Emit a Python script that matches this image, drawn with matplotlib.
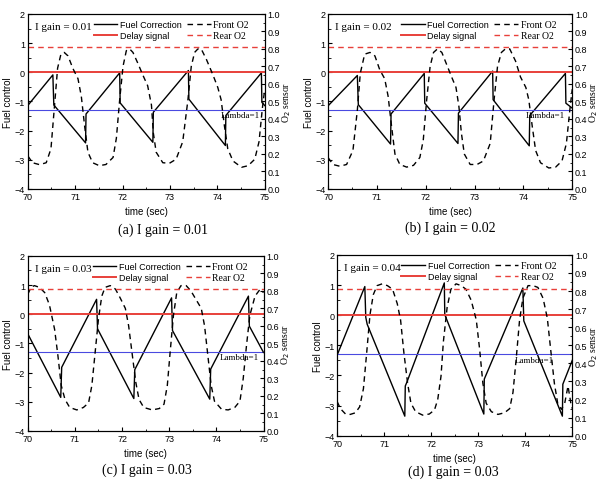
import matplotlib
matplotlib.use("Agg")
import matplotlib.pyplot as plt
from matplotlib.ticker import MultipleLocator

SANS = "Liberation Sans"
SERIF = "Liberation Serif"
RED = "#e8403a"
BLUE = "#4a4ae0"

# ---- values ----
GAINS = ["0.01", "0.02", "0.03", "0.04"]
CAPTIONS = ["(a) I gain = 0.01", "(b) I gain = 0.02", "(c) I gain = 0.03", "(d) I gain = 0.03"]
DELAY_LEVEL = 0.0      # left axis
LAMBDA_LEVEL = -1.3    # left axis (= 0.45 on the O2 axis)
REAR_O2 = 0.81         # right axis

# fuel correction (left axis)
fuel_t_a = [70.00, 70.53, 70.55, 71.22, 71.23, 71.94, 71.95, 72.64, 72.65, 73.39, 73.40,
            74.17, 74.18, 74.93, 74.94, 75.00]
fuel_a = [-1.14, -0.09, -1.12, -2.42, -1.43, -0.02, -1.05, -2.40, -1.37, 0.06, -0.92,
          -2.51, -1.48, -0.02, -1.03, -1.14]
fuel_t_b = [70.00, 70.60, 70.62, 71.28, 71.29, 71.97, 71.98, 72.66, 72.67, 73.37, 73.38,
            74.12, 74.13, 74.86, 74.87, 75.00]
fuel_b = [-1.15, -0.11, -1.11, -2.46, -1.43, -0.04, -1.06, -2.44, -1.40, 0.04, -0.94,
          -2.52, -1.48, -0.04, -1.06, -1.23]
fuel_t_c = [70.00, 70.70, 70.72, 71.46, 71.48, 72.25, 72.27, 73.05, 73.07, 73.86, 73.88,
            74.68, 74.70, 75.00]
fuel_c = [-0.67, -2.85, -1.82, 0.51, -0.50, -2.89, -1.90, 0.56, -0.56, -2.91, -1.88,
          0.62, -0.41, -1.31]
fuel_t_d = [70.00, 70.59, 70.61, 70.64, 71.44, 71.45, 71.48, 72.28, 72.29, 73.12, 73.13,
            73.95, 73.97, 74.79, 74.80, 75.00]
fuel_d = [-1.33, 0.95, -0.07, -0.30, -3.35, -2.35, -2.24, 1.07, 0.02, -3.28, -2.12,
          0.90, -0.19, -3.35, -2.29, -1.50]

# front O2 sensor (right axis)
o2_t_a = [70.00, 70.10, 70.25, 70.39, 70.49, 70.56, 70.63, 70.70, 70.77, 70.85, 70.95,
          71.06, 71.13, 71.20, 71.27, 71.37, 71.51, 71.65, 71.80, 71.87, 71.94, 72.01,
          72.08, 72.15, 72.22, 72.32, 72.43, 72.53, 72.61, 72.65, 72.71, 72.85, 72.99,
          73.13, 73.27, 73.38, 73.45, 73.52, 73.59, 73.66, 73.77, 73.91, 74.01, 74.08,
          74.15, 74.22, 74.33, 74.51, 74.65, 74.79, 74.88, 74.95, 75.00]
o2_a = [0.19, 0.15, 0.139, 0.15, 0.23, 0.46, 0.69, 0.77, 0.78, 0.76, 0.69,
        0.63, 0.53, 0.36, 0.21, 0.15, 0.133, 0.14, 0.18, 0.29, 0.51, 0.70,
        0.79, 0.80, 0.78, 0.72, 0.65, 0.59, 0.48, 0.32, 0.21, 0.15, 0.147,
        0.17, 0.27, 0.51, 0.70, 0.78, 0.80, 0.80, 0.74, 0.65, 0.58, 0.51,
        0.36, 0.23, 0.16, 0.124, 0.133, 0.17, 0.27, 0.46, 0.57]
o2_t_b = [70.00, 70.10, 70.24, 70.38, 70.51, 70.60, 70.66, 70.75, 70.86, 70.96, 71.06,
          71.16, 71.23, 71.30, 71.37, 71.47, 71.61, 71.75, 71.88, 71.95, 72.02, 72.09,
          72.16, 72.24, 72.33, 72.43, 72.53, 72.62, 72.68, 72.73, 72.79, 72.91, 73.05,
          73.18, 73.32, 73.40, 73.47, 73.55, 73.63, 73.72, 73.84, 73.94, 74.05, 74.11,
          74.18, 74.25, 74.35, 74.52, 74.66, 74.79, 74.88, 74.95, 75.00]
o2_b = [0.18, 0.14, 0.13, 0.14, 0.22, 0.45, 0.66, 0.77, 0.78, 0.76, 0.68,
        0.63, 0.53, 0.36, 0.20, 0.14, 0.125, 0.135, 0.18, 0.28, 0.51, 0.70,
        0.78, 0.80, 0.78, 0.71, 0.64, 0.58, 0.47, 0.32, 0.20, 0.14, 0.14,
        0.16, 0.26, 0.51, 0.70, 0.78, 0.80, 0.80, 0.73, 0.64, 0.58, 0.51,
        0.36, 0.22, 0.15, 0.12, 0.125, 0.16, 0.26, 0.45, 0.57]
o2_t_c = [70.00, 70.07, 70.14, 70.25, 70.36, 70.46, 70.57, 70.64, 70.71, 70.79, 70.89,
          71.04, 71.18, 71.29, 71.36, 71.43, 71.50, 71.57, 71.64, 71.75, 71.86, 71.96,
          72.07, 72.14, 72.21, 72.29, 72.36, 72.46, 72.64, 72.79, 72.89, 72.96, 73.02,
          73.09, 73.16, 73.25, 73.36, 73.46, 73.57, 73.68, 73.75, 73.82, 73.89, 73.96,
          74.11, 74.25, 74.39, 74.50, 74.57, 74.64, 74.71, 74.82, 74.93, 75.00]
o2_c = [0.78, 0.82, 0.83, 0.82, 0.79, 0.72, 0.58, 0.43, 0.26, 0.18, 0.134,
        0.12, 0.134, 0.16, 0.26, 0.45, 0.64, 0.77, 0.82, 0.83, 0.81, 0.76,
        0.70, 0.60, 0.45, 0.28, 0.18, 0.134, 0.12, 0.128, 0.153, 0.26, 0.45,
        0.66, 0.79, 0.83, 0.83, 0.80, 0.75, 0.70, 0.60, 0.43, 0.26, 0.17,
        0.124, 0.12, 0.134, 0.17, 0.30, 0.49, 0.66, 0.77, 0.81, 0.79]
o2_t_d = [70.00, 70.07, 70.18, 70.28, 70.39, 70.48, 70.56, 70.63, 70.70, 70.77, 70.85,
          70.96, 71.07, 71.18, 71.28, 71.35, 71.42, 71.50, 71.57, 71.67, 71.82, 71.96,
          72.07, 72.14, 72.21, 72.26, 72.34, 72.42, 72.53, 72.64, 72.74, 72.85, 72.96,
          73.03, 73.10, 73.17, 73.28, 73.42, 73.56, 73.67, 73.74, 73.81, 73.88, 73.95,
          74.06, 74.17, 74.27, 74.38, 74.47, 74.54, 74.62, 74.69, 74.77, 74.84, 74.91,
          74.97, 75.00]
o2_d = [0.19, 0.15, 0.12, 0.118, 0.127, 0.16, 0.26, 0.46, 0.67, 0.78, 0.83,
        0.84, 0.83, 0.81, 0.73, 0.64, 0.46, 0.29, 0.18, 0.133, 0.114, 0.12,
        0.142, 0.20, 0.33, 0.52, 0.71, 0.81, 0.84, 0.83, 0.81, 0.75, 0.64,
        0.48, 0.29, 0.18, 0.133, 0.118, 0.127, 0.15, 0.24, 0.43, 0.64, 0.76,
        0.83, 0.83, 0.82, 0.76, 0.65, 0.48, 0.29, 0.18, 0.146, 0.18, 0.275,
        0.18, 0.15]

LAMBDA_TEXT_X = [74.08, 74.04, 74.07, 73.78]

panels = [
    (fuel_t_a, fuel_a, o2_t_a, o2_a),
    (fuel_t_b, fuel_b, o2_t_b, o2_b),
    (fuel_t_c, fuel_c, o2_t_c, o2_c),
    (fuel_t_d, fuel_d, o2_t_d, o2_d),
]
# axes rectangles [left, bottom, width, height] in figure fraction
rects = [
    [0.046, 0.605, 0.393, 0.364],
    [0.544, 0.605, 0.405, 0.364],
    [0.046, 0.102, 0.391, 0.364],
    [0.559, 0.092, 0.390, 0.376],
]
caption_xy = [(0.27, 0.522), (0.746, 0.526), (0.243, 0.023), (0.752, 0.019)]

fig = plt.figure(figsize=(6.03, 4.81), dpi=100)

for i, (ft, fv, ot, ov) in enumerate(panels):
    ax = fig.add_axes(rects[i])
    ax2 = ax.twinx()

    h_fuel, = ax.plot(ft, fv, color="black", lw=1.0)
    h_delay = ax.axhline(DELAY_LEVEL, color=RED, lw=1.4)
    ax.axhline(LAMBDA_LEVEL, color=BLUE, lw=0.8)
    h_front, = ax2.plot(ot, ov, color="black", lw=1.0, ls=(0, (4, 3)))
    h_rear = ax2.axhline(REAR_O2, color=RED, lw=1.0, ls=(0, (4, 3)))

    ax.set_xlim(70, 75)
    ax.set_ylim(-4, 2)
    ax2.set_ylim(0, 1.0)
    ax.xaxis.set_major_locator(MultipleLocator(1))
    ax.xaxis.set_minor_locator(MultipleLocator(0.5))
    ax.yaxis.set_major_locator(MultipleLocator(1))
    ax.yaxis.set_minor_locator(MultipleLocator(0.5))
    ax2.yaxis.set_minor_locator(MultipleLocator(0.05))
    ax2.set_yticks([k / 10 for k in range(11)])
    ax2.set_yticklabels([f"{k / 10:.1f}" for k in range(11)])

    for a in (ax, ax2):
        a.tick_params(which="both", direction="in", labelsize=6.5, pad=2)
        a.tick_params(which="major", length=3)
        a.tick_params(which="minor", length=1.8)
        for lab in a.get_xticklabels() + a.get_yticklabels():
            lab.set_family(SANS)
        for sp in a.spines.values():
            sp.set_linewidth(0.8)

    ax.set_xlabel("time (sec)", fontsize=7, family=SANS, labelpad=4)
    ax.set_ylabel("Fuel control", fontsize=7, family=SANS, labelpad=1)
    ax2.set_ylabel("O$_2$ sensor", fontsize=7, family=SERIF, rotation=90, labelpad=0)

    ax.text(LAMBDA_TEXT_X[i], LAMBDA_LEVEL - 0.18, "Lambda=1", fontsize=6.5,
            family=SERIF, ha="left", va="center")
    ax.text(0.03, 0.955, f"I gain = {GAINS[i]}", transform=ax.transAxes,
            fontsize=8, family=SERIF, ha="left", va="top")

    leg = ax2.legend([h_fuel, h_delay, h_front, h_rear],
                     ["Fuel Correction", "Delay signal", "Front O2", "Rear O2"],
                     ncol=2, loc="upper right", bbox_to_anchor=(0.96, 1.0),
                     frameon=False, fontsize=6.5,
                     handlelength=2.6, handletextpad=0.3, columnspacing=0.6,
                     labelspacing=0.25, borderaxespad=0.3)
    for j, txt in enumerate(leg.get_texts()):
        txt.set_family(SANS if j < 2 else SERIF)
        if j >= 2:
            txt.set_fontsize(7)

    fig.text(caption_xy[i][0], caption_xy[i][1], CAPTIONS[i], fontsize=10,
             family=SERIF, ha="center", va="center")

fig.savefig("out.png", dpi=100)
